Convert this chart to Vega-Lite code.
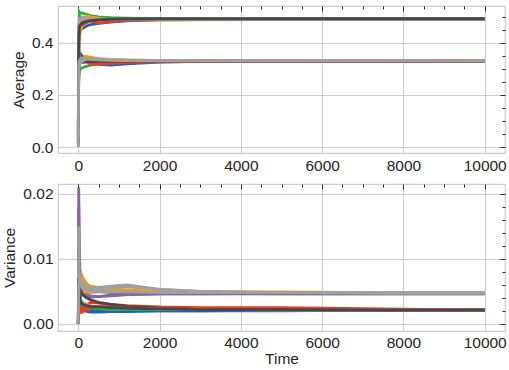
{
  "$schema": "https://vega.github.io/schema/vega-lite/v6.json",
  "padding": {"left": 2, "top": 4, "right": 4, "bottom": 2},
  "background": "white",
  "spacing": 31,
  "bounds": "flush",
  "config": {
    "font": "Liberation Sans",
    "view": {"stroke": "#cccccc", "strokeWidth": 1.2},
    "axis": {
      "labelFontSize": 15.5, "titleFontSize": 15.5, "labelColor": "#262626", "titleColor": "#262626",
      "titleFontWeight": "normal", "ticks": false, "domain": false, "gridColor": "#cccccc", "gridWidth": 1,
      "labelFlush": false
    }
  },
  "datasets": {
    "runs": [
      {"s":"s01","t":0,"a":0.06,"v":0},{"s":"s01","t":10,"a":0.38,"v":0.011},{"s":"s01","t":25,"a":0.44,"v":0.006},{"s":"s01","t":50,"a":0.45,"v":0.004},{"s":"s01","t":100,"a":0.455,"v":0.0022},{"s":"s01","t":200,"a":0.465,"v":0.0019},{"s":"s01","t":300,"a":0.47,"v":0.0018},{"s":"s01","t":500,"a":0.475,"v":0.0018},{"s":"s01","t":800,"a":0.48,"v":0.0019},{"s":"s01","t":1200,"a":0.485,"v":0.0019},{"s":"s01","t":2000,"a":0.489,"v":0.002},{"s":"s01","t":3000,"a":0.49,"v":0.002},{"s":"s01","t":5000,"a":0.491,"v":0.002},{"s":"s01","t":7500,"a":0.492,"v":0.0021},{"s":"s01","t":10000,"a":0.492,"v":0.0021},
      {"s":"s02","t":0,"a":0.05,"v":0},{"s":"s02","t":10,"a":0.38,"v":0.004},{"s":"s02","t":25,"a":0.35,"v":0.006},{"s":"s02","t":50,"a":0.345,"v":0.0055},{"s":"s02","t":100,"a":0.35,"v":0.005},{"s":"s02","t":200,"a":0.348,"v":0.0048},{"s":"s02","t":300,"a":0.345,"v":0.0048},{"s":"s02","t":500,"a":0.34,"v":0.0049},{"s":"s02","t":800,"a":0.337,"v":0.005},{"s":"s02","t":1200,"a":0.335,"v":0.005},{"s":"s02","t":2000,"a":0.333,"v":0.0049},{"s":"s02","t":3000,"a":0.331,"v":0.0048},{"s":"s02","t":5000,"a":0.331,"v":0.0047},{"s":"s02","t":7500,"a":0.33,"v":0.0047},{"s":"s02","t":10000,"a":0.33,"v":0.0047},
      {"s":"s03","t":0,"a":0.03,"v":0},{"s":"s03","t":10,"a":0.42,"v":0.008},{"s":"s03","t":25,"a":0.52,"v":0.006},{"s":"s03","t":50,"a":0.515,"v":0.0058},{"s":"s03","t":100,"a":0.515,"v":0.006},{"s":"s03","t":200,"a":0.51,"v":0.0056},{"s":"s03","t":300,"a":0.505,"v":0.0052},{"s":"s03","t":500,"a":0.5,"v":0.005},{"s":"s03","t":800,"a":0.497,"v":0.0048},{"s":"s03","t":1200,"a":0.495,"v":0.0048},{"s":"s03","t":2000,"a":0.493,"v":0.0047},{"s":"s03","t":3000,"a":0.492,"v":0.0047},{"s":"s03","t":5000,"a":0.492,"v":0.0046},{"s":"s03","t":7500,"a":0.492,"v":0.0046},{"s":"s03","t":10000,"a":0.492,"v":0.0046},
      {"s":"s04","t":0,"a":0.09,"v":0},{"s":"s04","t":10,"a":0.37,"v":0.009},{"s":"s04","t":25,"a":0.36,"v":0.005},{"s":"s04","t":50,"a":0.36,"v":0.0035},{"s":"s04","t":100,"a":0.345,"v":0.003},{"s":"s04","t":200,"a":0.33,"v":0.0025},{"s":"s04","t":300,"a":0.325,"v":0.0022},{"s":"s04","t":500,"a":0.318,"v":0.002},{"s":"s04","t":800,"a":0.315,"v":0.002},{"s":"s04","t":1200,"a":0.32,"v":0.002},{"s":"s04","t":2000,"a":0.326,"v":0.002},{"s":"s04","t":3000,"a":0.329,"v":0.002},{"s":"s04","t":5000,"a":0.33,"v":0.0021},{"s":"s04","t":7500,"a":0.33,"v":0.0021},{"s":"s04","t":10000,"a":0.33,"v":0.0021},
      {"s":"s05","t":0,"a":0.08,"v":0},{"s":"s05","t":10,"a":0.4,"v":0.018},{"s":"s05","t":25,"a":0.47,"v":0.009},{"s":"s05","t":50,"a":0.475,"v":0.005},{"s":"s05","t":100,"a":0.475,"v":0.0045},{"s":"s05","t":200,"a":0.48,"v":0.0042},{"s":"s05","t":300,"a":0.485,"v":0.0041},{"s":"s05","t":500,"a":0.488,"v":0.0042},{"s":"s05","t":800,"a":0.49,"v":0.0044},{"s":"s05","t":1200,"a":0.491,"v":0.0045},{"s":"s05","t":2000,"a":0.49,"v":0.0046},{"s":"s05","t":3000,"a":0.49,"v":0.0046},{"s":"s05","t":5000,"a":0.491,"v":0.0046},{"s":"s05","t":7500,"a":0.491,"v":0.0046},{"s":"s05","t":10000,"a":0.491,"v":0.0046},
      {"s":"s06","t":0,"a":0.03,"v":0},{"s":"s06","t":10,"a":0.26,"v":0.006},{"s":"s06","t":25,"a":0.29,"v":0.004},{"s":"s06","t":50,"a":0.3,"v":0.003},{"s":"s06","t":100,"a":0.305,"v":0.0028},{"s":"s06","t":200,"a":0.31,"v":0.0026},{"s":"s06","t":300,"a":0.315,"v":0.0024},{"s":"s06","t":500,"a":0.32,"v":0.0023},{"s":"s06","t":800,"a":0.324,"v":0.0022},{"s":"s06","t":1200,"a":0.327,"v":0.0022},{"s":"s06","t":2000,"a":0.329,"v":0.0022},{"s":"s06","t":3000,"a":0.33,"v":0.0022},{"s":"s06","t":5000,"a":0.33,"v":0.0022},{"s":"s06","t":7500,"a":0.33,"v":0.0022},{"s":"s06","t":10000,"a":0.33,"v":0.0022},
      {"s":"s07","t":0,"a":0.05,"v":0},{"s":"s07","t":10,"a":0.36,"v":0.009},{"s":"s07","t":25,"a":0.42,"v":0.0085},{"s":"s07","t":50,"a":0.44,"v":0.008},{"s":"s07","t":100,"a":0.47,"v":0.0072},{"s":"s07","t":200,"a":0.505,"v":0.0062},{"s":"s07","t":300,"a":0.5,"v":0.0058},{"s":"s07","t":500,"a":0.495,"v":0.0056},{"s":"s07","t":800,"a":0.49,"v":0.0054},{"s":"s07","t":1200,"a":0.488,"v":0.0052},{"s":"s07","t":2000,"a":0.488,"v":0.005},{"s":"s07","t":3000,"a":0.489,"v":0.0049},{"s":"s07","t":5000,"a":0.49,"v":0.0049},{"s":"s07","t":7500,"a":0.49,"v":0.0048},{"s":"s07","t":10000,"a":0.49,"v":0.0048},
      {"s":"s08","t":0,"a":0.02,"v":0},{"s":"s08","t":10,"a":0.3,"v":0.003},{"s":"s08","t":25,"a":0.32,"v":0.0022},{"s":"s08","t":50,"a":0.33,"v":0.0018},{"s":"s08","t":100,"a":0.335,"v":0.0022},{"s":"s08","t":200,"a":0.328,"v":0.0028},{"s":"s08","t":300,"a":0.318,"v":0.0033},{"s":"s08","t":500,"a":0.32,"v":0.0032},{"s":"s08","t":800,"a":0.322,"v":0.003},{"s":"s08","t":1200,"a":0.325,"v":0.0028},{"s":"s08","t":2000,"a":0.327,"v":0.0026},{"s":"s08","t":3000,"a":0.328,"v":0.0025},{"s":"s08","t":5000,"a":0.329,"v":0.0025},{"s":"s08","t":7500,"a":0.329,"v":0.0023},{"s":"s08","t":10000,"a":0.33,"v":0.0021},
      {"s":"s09","t":0,"a":0.02,"v":0},{"s":"s09","t":10,"a":0.39,"v":0.005},{"s":"s09","t":25,"a":0.47,"v":0.003},{"s":"s09","t":50,"a":0.49,"v":0.0022},{"s":"s09","t":100,"a":0.47,"v":0.0018},{"s":"s09","t":200,"a":0.478,"v":0.0022},{"s":"s09","t":300,"a":0.485,"v":0.0025},{"s":"s09","t":500,"a":0.476,"v":0.0027},{"s":"s09","t":800,"a":0.482,"v":0.0026},{"s":"s09","t":1200,"a":0.487,"v":0.0025},{"s":"s09","t":2000,"a":0.49,"v":0.0024},{"s":"s09","t":3000,"a":0.49,"v":0.0023},{"s":"s09","t":5000,"a":0.491,"v":0.0022},{"s":"s09","t":7500,"a":0.491,"v":0.0022},{"s":"s09","t":10000,"a":0.491,"v":0.0022},
      {"s":"s10","t":0,"a":0.06,"v":0},{"s":"s10","t":10,"a":0.33,"v":0.021},{"s":"s10","t":25,"a":0.34,"v":0.012},{"s":"s10","t":50,"a":0.335,"v":0.006},{"s":"s10","t":100,"a":0.325,"v":0.0045},{"s":"s10","t":200,"a":0.33,"v":0.0045},{"s":"s10","t":300,"a":0.335,"v":0.0043},{"s":"s10","t":500,"a":0.333,"v":0.0042},{"s":"s10","t":800,"a":0.332,"v":0.0043},{"s":"s10","t":1200,"a":0.332,"v":0.0045},{"s":"s10","t":2000,"a":0.331,"v":0.0046},{"s":"s10","t":3000,"a":0.331,"v":0.0046},{"s":"s10","t":5000,"a":0.331,"v":0.0047},{"s":"s10","t":7500,"a":0.331,"v":0.0047},{"s":"s10","t":10000,"a":0.331,"v":0.0047},
      {"s":"s11","t":0,"a":0.0,"v":0},{"s":"s11","t":10,"a":0.41,"v":0.015},{"s":"s11","t":25,"a":0.48,"v":0.009},{"s":"s11","t":50,"a":0.49,"v":0.0068},{"s":"s11","t":100,"a":0.5,"v":0.0065},{"s":"s11","t":200,"a":0.495,"v":0.0058},{"s":"s11","t":300,"a":0.493,"v":0.0055},{"s":"s11","t":500,"a":0.492,"v":0.0056},{"s":"s11","t":800,"a":0.491,"v":0.0058},{"s":"s11","t":1200,"a":0.491,"v":0.006},{"s":"s11","t":2000,"a":0.491,"v":0.0053},{"s":"s11","t":3000,"a":0.491,"v":0.005},{"s":"s11","t":5000,"a":0.491,"v":0.0048},{"s":"s11","t":7500,"a":0.491,"v":0.0048},{"s":"s11","t":10000,"a":0.491,"v":0.0048},
      {"s":"s12","t":0,"a":0.01,"v":0},{"s":"s12","t":10,"a":0.31,"v":0.012},{"s":"s12","t":25,"a":0.32,"v":0.007},{"s":"s12","t":50,"a":0.325,"v":0.005},{"s":"s12","t":100,"a":0.325,"v":0.0045},{"s":"s12","t":200,"a":0.327,"v":0.004},{"s":"s12","t":300,"a":0.328,"v":0.0037},{"s":"s12","t":500,"a":0.329,"v":0.0033},{"s":"s12","t":800,"a":0.33,"v":0.003},{"s":"s12","t":1200,"a":0.33,"v":0.0027},{"s":"s12","t":2000,"a":0.33,"v":0.0024},{"s":"s12","t":3000,"a":0.331,"v":0.0022},{"s":"s12","t":5000,"a":0.331,"v":0.0021},{"s":"s12","t":7500,"a":0.331,"v":0.0021},{"s":"s12","t":10000,"a":0.331,"v":0.0021},
      {"s":"s13","t":0,"a":0.04,"v":0},{"s":"s13","t":10,"a":0.43,"v":0.013},{"s":"s13","t":25,"a":0.5,"v":0.008},{"s":"s13","t":50,"a":0.49,"v":0.0062},{"s":"s13","t":100,"a":0.485,"v":0.0058},{"s":"s13","t":200,"a":0.487,"v":0.0055},{"s":"s13","t":300,"a":0.489,"v":0.005},{"s":"s13","t":500,"a":0.49,"v":0.0049},{"s":"s13","t":800,"a":0.49,"v":0.0049},{"s":"s13","t":1200,"a":0.49,"v":0.0049},{"s":"s13","t":2000,"a":0.49,"v":0.0048},{"s":"s13","t":3000,"a":0.49,"v":0.0048},{"s":"s13","t":5000,"a":0.49,"v":0.0048},{"s":"s13","t":7500,"a":0.49,"v":0.0048},{"s":"s13","t":10000,"a":0.49,"v":0.0048},
      {"s":"s14","t":0,"a":0.0,"v":0},{"s":"s14","t":10,"a":0.3,"v":0.008},{"s":"s14","t":25,"a":0.31,"v":0.005},{"s":"s14","t":50,"a":0.32,"v":0.0038},{"s":"s14","t":100,"a":0.33,"v":0.0033},{"s":"s14","t":200,"a":0.338,"v":0.003},{"s":"s14","t":300,"a":0.34,"v":0.0028},{"s":"s14","t":500,"a":0.338,"v":0.0026},{"s":"s14","t":800,"a":0.336,"v":0.0025},{"s":"s14","t":1200,"a":0.334,"v":0.0024},{"s":"s14","t":2000,"a":0.333,"v":0.0023},{"s":"s14","t":3000,"a":0.332,"v":0.0022},{"s":"s14","t":5000,"a":0.332,"v":0.0021},{"s":"s14","t":7500,"a":0.332,"v":0.0021},{"s":"s14","t":10000,"a":0.332,"v":0.0021},
      {"s":"s15","t":0,"a":0.07,"v":0},{"s":"s15","t":10,"a":0.4,"v":0.007},{"s":"s15","t":25,"a":0.46,"v":0.0045},{"s":"s15","t":50,"a":0.47,"v":0.0035},{"s":"s15","t":100,"a":0.478,"v":0.003},{"s":"s15","t":200,"a":0.483,"v":0.0028},{"s":"s15","t":300,"a":0.486,"v":0.0027},{"s":"s15","t":500,"a":0.489,"v":0.0026},{"s":"s15","t":800,"a":0.491,"v":0.0025},{"s":"s15","t":1200,"a":0.492,"v":0.0024},{"s":"s15","t":2000,"a":0.493,"v":0.0023},{"s":"s15","t":3000,"a":0.493,"v":0.0022},{"s":"s15","t":5000,"a":0.493,"v":0.0022},{"s":"s15","t":7500,"a":0.493,"v":0.0021},{"s":"s15","t":10000,"a":0.493,"v":0.0021},
      {"s":"s16","t":0,"a":0.04,"v":0},{"s":"s16","t":10,"a":0.32,"v":0.006},{"s":"s16","t":25,"a":0.33,"v":0.007},{"s":"s16","t":50,"a":0.34,"v":0.006},{"s":"s16","t":100,"a":0.342,"v":0.0055},{"s":"s16","t":200,"a":0.34,"v":0.0052},{"s":"s16","t":300,"a":0.337,"v":0.005},{"s":"s16","t":500,"a":0.335,"v":0.0053},{"s":"s16","t":800,"a":0.333,"v":0.0055},{"s":"s16","t":1200,"a":0.332,"v":0.0057},{"s":"s16","t":2000,"a":0.331,"v":0.0053},{"s":"s16","t":3000,"a":0.331,"v":0.005},{"s":"s16","t":5000,"a":0.331,"v":0.0048},{"s":"s16","t":7500,"a":0.331,"v":0.0047},{"s":"s16","t":10000,"a":0.331,"v":0.0047}
    ]
  },
  "data": {"name": "runs"},
  "vconcat": [
    {
      "width": 447, "height": 147,
      "resolve": {"axis": {"x": "independent", "y": "independent"}},
      "layer": [
        {
          "mark": {"type": "line", "strokeWidth": 2.8, "clip": true},
          "encoding": {
            "x": {"field": "t", "type": "quantitative", "scale": {"domain": [-500, 10500], "nice": false, "zero": false},
                  "axis": {"values": [0, 2000, 4000, 6000, 8000, 10000], "format": "d", "title": null, "labelPadding": 5}},
            "y": {"field": "a", "type": "quantitative", "scale": {"domain": [-0.023, 0.542], "nice": false, "zero": false},
                  "axis": {"values": [0, 0.2, 0.4], "format": ".1f", "title": "Average", "labelPadding": 5, "titlePadding": 5}},
            "color": {"field": "s", "type": "nominal", "legend": null,
                      "scale": {"domain": ["s01","s02","s03","s04","s05","s06","s07","s08","s09","s10","s11","s12","s13","s14","s15","s16"],
                                "range": ["#1f63b5","#ff9a00","#1db33c","#1f63b5","#8a62a8","#1db33c","#ff9a00","#f5371a","#f5371a","#8a62a8","#a0a0a0","#474747","#a0a0a0","#a0a0a0","#474747","#a0a0a0"]}}
          }
        },
        {
          "mark": {"type": "point", "opacity": 0},
          "encoding": {
            "x": {"field": "t", "type": "quantitative", "axis": {"orient": "top", "values": [0, 2000, 4000, 6000, 8000, 10000], "labels": false, "grid": false, "domain": false, "ticks": true, "tickSize": 5, "offset": -5, "tickColor": "#262626", "title": null}},
            "y": {"field": "a", "type": "quantitative", "axis": {"orient": "right", "values": [0, 0.2, 0.4], "labels": false, "grid": false, "domain": false, "ticks": true, "tickSize": 5, "offset": -5, "tickColor": "#262626", "title": null}}
          }
        },
        {
          "mark": {"type": "point", "opacity": 0},
          "encoding": {
            "x": {"field": "t", "type": "quantitative", "axis": {"orient": "top", "values": [500, 1000, 1500, 2500, 3000, 3500, 4500, 5000, 5500, 6500, 7000, 7500, 8500, 9000, 9500], "labels": false, "grid": false, "domain": false, "ticks": true, "tickSize": 3, "offset": -3, "tickColor": "#262626", "title": null}},
            "y": {"field": "a", "type": "quantitative", "axis": {"orient": "right", "values": [0.05, 0.1, 0.15, 0.25, 0.3, 0.35, 0.45, 0.5], "labels": false, "grid": false, "domain": false, "ticks": true, "tickSize": 3, "offset": -3, "tickColor": "#262626", "title": null}}
          }
        }
      ]
    },
    {
      "width": 447, "height": 147,
      "resolve": {"axis": {"x": "independent", "y": "independent"}},
      "layer": [
        {
          "mark": {"type": "line", "strokeWidth": 2.8, "clip": true},
          "encoding": {
            "x": {"field": "t", "type": "quantitative", "scale": {"domain": [-500, 10500], "nice": false, "zero": false},
                  "axis": {"values": [0, 2000, 4000, 6000, 8000, 10000], "format": "d", "title": "Time", "labelPadding": 4, "titlePadding": 1}},
            "y": {"field": "v", "type": "quantitative", "scale": {"domain": [-0.0011, 0.0215], "nice": false, "zero": false},
                  "axis": {"values": [0, 0.01, 0.02], "format": ".2f", "title": "Variance", "labelPadding": 5, "titlePadding": 5}},
            "color": {"field": "s", "type": "nominal", "legend": null,
                      "scale": {"domain": ["s01","s02","s03","s04","s05","s06","s07","s08","s09","s10","s11","s12","s13","s14","s15","s16"],
                                "range": ["#1f63b5","#ff9a00","#1db33c","#1f63b5","#8a62a8","#1db33c","#ff9a00","#f5371a","#f5371a","#8a62a8","#a0a0a0","#474747","#a0a0a0","#a0a0a0","#474747","#a0a0a0"]}}
          }
        },
        {
          "mark": {"type": "point", "opacity": 0},
          "encoding": {
            "x": {"field": "t", "type": "quantitative", "axis": {"orient": "top", "values": [0, 2000, 4000, 6000, 8000, 10000], "labels": false, "grid": false, "domain": false, "ticks": true, "tickSize": 5, "offset": -5, "tickColor": "#262626", "title": null}},
            "y": {"field": "v", "type": "quantitative", "axis": {"orient": "right", "values": [0, 0.01, 0.02], "labels": false, "grid": false, "domain": false, "ticks": true, "tickSize": 5, "offset": -5, "tickColor": "#262626", "title": null}}
          }
        },
        {
          "mark": {"type": "point", "opacity": 0},
          "encoding": {
            "x": {"field": "t", "type": "quantitative", "axis": {"orient": "top", "values": [500, 1000, 1500, 2500, 3000, 3500, 4500, 5000, 5500, 6500, 7000, 7500, 8500, 9000, 9500], "labels": false, "grid": false, "domain": false, "ticks": true, "tickSize": 3, "offset": -3, "tickColor": "#262626", "title": null}},
            "y": {"field": "v", "type": "quantitative", "axis": {"orient": "right", "values": [0.002, 0.004, 0.006, 0.008, 0.012, 0.014, 0.016, 0.018], "labels": false, "grid": false, "domain": false, "ticks": true, "tickSize": 3, "offset": -3, "tickColor": "#262626", "title": null}}
          }
        }
      ]
    }
  ]
}
